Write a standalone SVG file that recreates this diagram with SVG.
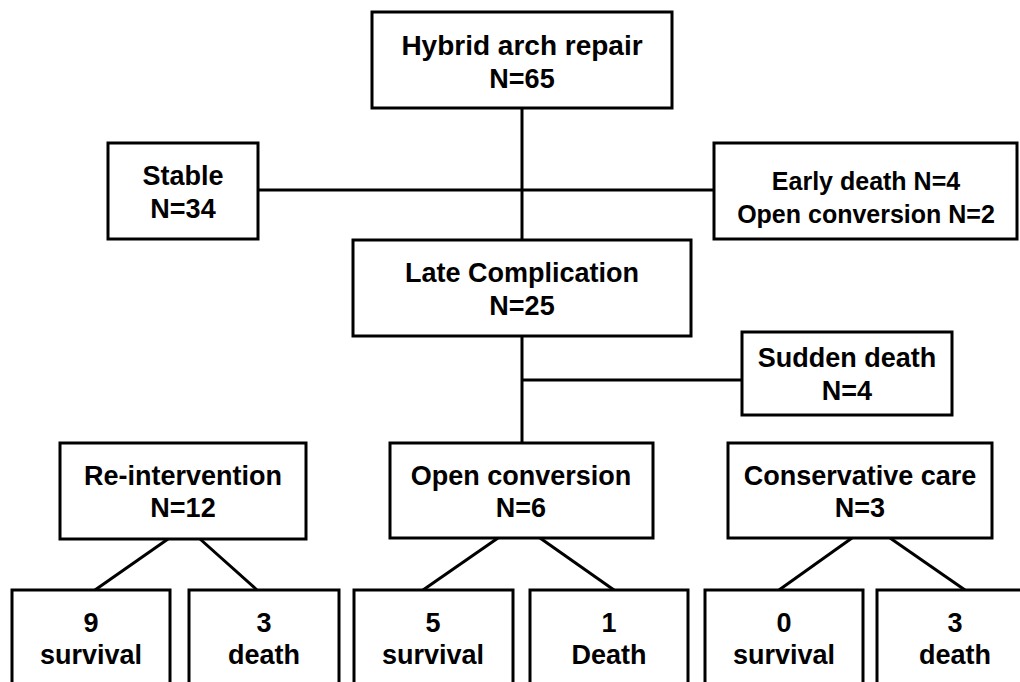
<svg xmlns="http://www.w3.org/2000/svg" width="1020" height="682" viewBox="0 0 1020 682">
<style>
.box{fill:#fff;stroke:#000;stroke-width:3}
.t{font-family:"Liberation Sans",Arial,sans-serif;font-weight:bold;font-size:27px;fill:#000;text-anchor:middle}
.s{font-size:25px}
.c{fill:none;stroke:#000;stroke-width:3}
</style>
<rect width="1020" height="682" fill="#fff"/>
<g id="connectors">
<line class="c" x1="522" y1="108" x2="522" y2="240"/>
<line class="c" x1="258" y1="190" x2="714" y2="190"/>
<line class="c" x1="522" y1="336" x2="522" y2="443"/>
<line class="c" x1="522" y1="380" x2="742" y2="380"/>
<line class="c" x1="168" y1="539" x2="95" y2="590"/>
<line class="c" x1="200" y1="539" x2="257" y2="590"/>
<line class="c" x1="498" y1="538" x2="423" y2="590"/>
<line class="c" x1="540" y1="538" x2="614" y2="590"/>
<line class="c" x1="852" y1="538" x2="779" y2="590"/>
<line class="c" x1="890" y1="538" x2="965" y2="590"/>
</g>
<g id="hybrid">
<rect class="box" x="372" y="12" width="300" height="96"/>
<text class="t" x="522" y="55" style="font-size:28px">Hybrid arch repair</text>
<text class="t" x="522" y="88">N=65</text>
</g>
<g id="stable">
<rect class="box" x="108" y="143" width="150" height="96"/>
<text class="t" x="183" y="185">Stable</text>
<text class="t" x="183" y="218">N=34</text>
</g>
<g id="early">
<rect class="box" x="714" y="143" width="303" height="96"/>
<text class="t s" x="866" y="190">Early death N=4</text>
<text class="t s" x="866" y="223">Open conversion N=2</text>
</g>
<g id="late">
<rect class="box" x="353" y="240" width="338" height="96"/>
<text class="t" x="522" y="282">Late Complication</text>
<text class="t" x="522" y="315">N=25</text>
</g>
<g id="sudden">
<rect class="box" x="742" y="332" width="210" height="83"/>
<text class="t" x="847" y="367">Sudden death</text>
<text class="t" x="847" y="400">N=4</text>
</g>
<g id="reintervention">
<rect class="box" x="60" y="443" width="246" height="96"/>
<text class="t" x="183" y="485">Re-intervention</text>
<text class="t" x="183" y="517">N=12</text>
</g>
<g id="openconv">
<rect class="box" x="390" y="443" width="263" height="95"/>
<text class="t" x="521" y="485">Open conversion</text>
<text class="t" x="521" y="517">N=6</text>
</g>
<g id="conservative">
<rect class="box" x="728" y="443" width="264" height="95"/>
<text class="t" x="860" y="485">Conservative care</text>
<text class="t" x="860" y="517">N=3</text>
</g>
<g id="leaf1">
<rect class="box" x="12" y="590" width="158" height="110"/>
<text class="t" x="91" y="632">9</text>
<text class="t" x="91" y="664">survival</text>
</g>
<g id="leaf2">
<rect class="box" x="189" y="590" width="150" height="110"/>
<text class="t" x="264" y="632">3</text>
<text class="t" x="264" y="664">death</text>
</g>
<g id="leaf3">
<rect class="box" x="354" y="590" width="159" height="110"/>
<text class="t" x="433" y="632">5</text>
<text class="t" x="433" y="664">survival</text>
</g>
<g id="leaf4">
<rect class="box" x="530" y="590" width="158" height="110"/>
<text class="t" x="609" y="632">1</text>
<text class="t" x="609" y="664">Death</text>
</g>
<g id="leaf5">
<rect class="box" x="705" y="590" width="158" height="110"/>
<text class="t" x="784" y="632">0</text>
<text class="t" x="784" y="664">survival</text>
</g>
<g id="leaf6">
<rect class="box" x="877" y="590" width="156" height="110"/>
<text class="t" x="955" y="632">3</text>
<text class="t" x="955" y="664">death</text>
</g>
</svg>
